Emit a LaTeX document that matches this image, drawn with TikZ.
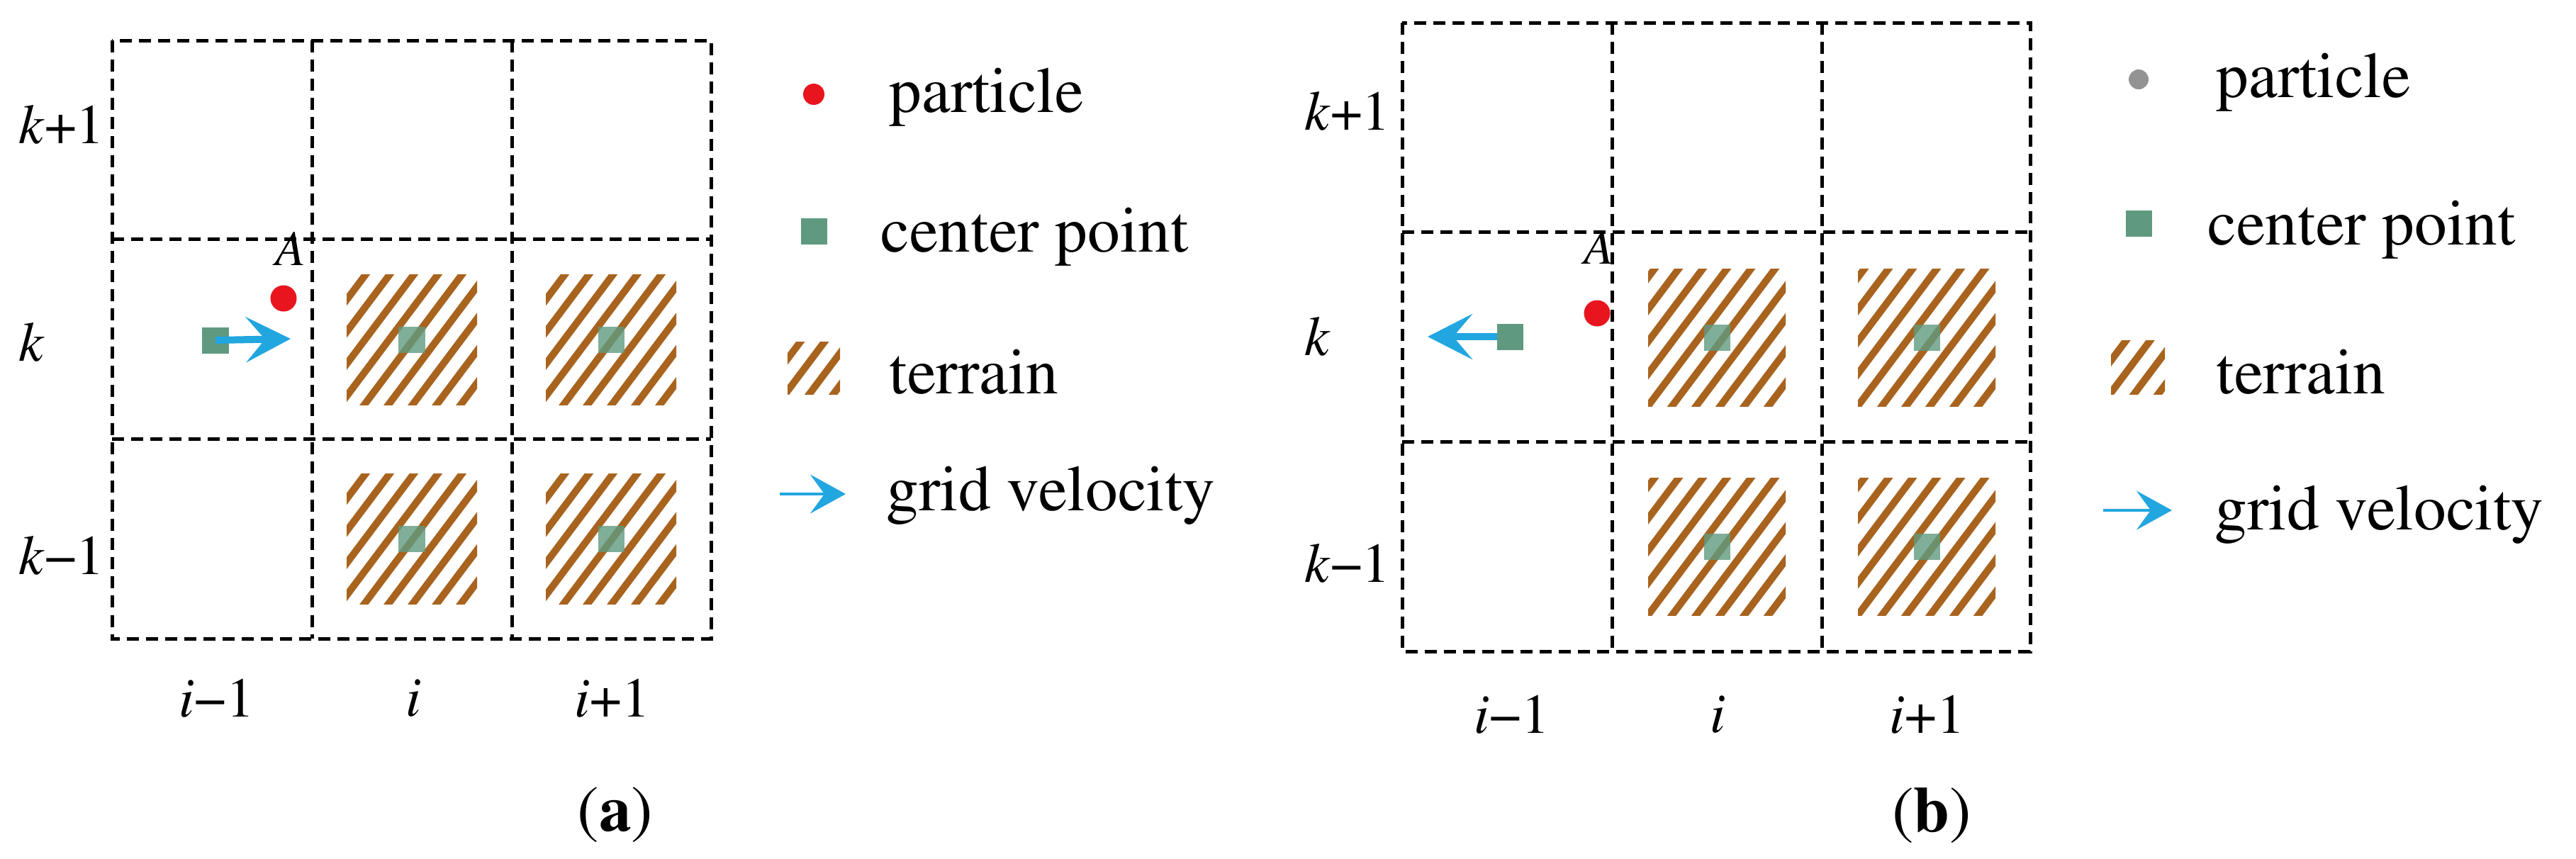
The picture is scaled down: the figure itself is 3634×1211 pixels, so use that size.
\documentclass[tikz,border=0pt]{standalone}
\usepackage[T1]{fontenc}
\usepackage{mathptmx}
\usepackage{textcomp}
\usetikzlibrary{arrows.meta}
\definecolor{cp}{HTML}{5F9A80}
\definecolor{terr}{HTML}{A8631E}
\definecolor{vel}{HTML}{22A6E0}
\definecolor{prt}{HTML}{E8151E}
\newcommand{\mns}{\textminus}
\begin{document}
\begin{tikzpicture}[x=0.01cm,y=-0.01cm,
  grid/.style={dashed,dash pattern=on 0.17cm off 0.1cm,line width=0.05cm},
  lab/.style={font=\fontsize{22.5}{26}\selectfont,inner sep=0},
  labA/.style={font=\fontsize{20}{24}\selectfont,inner sep=0},
  leg/.style={font=\fontsize{26}{30}\selectfont,inner sep=0,anchor=west},
  captxt/.style={font=\fontsize{26}{30}\selectfont,inner sep=0},
  cpt/.style={fill=cp,draw=none,minimum size=0.37cm,inner sep=0},
  cpo/.style={cpt,fill opacity=0.8},
  part/.style={circle,fill=prt,minimum size=0.37cm,inner sep=0},
  vela/.style={draw=vel,line width=0.1cm,-{Stealth[length=0.63cm,width=0.64cm,inset=0.27cm,fill=vel]}},
  velleg/.style={draw=vel,line width=0.04cm,-{Stealth[length=0.5cm,width=0.55cm,inset=0.2cm,fill=vel]}}]
\useasboundingbox (0,0) rectangle (3634,1211);
\newcommand{\terrain}[3]{% cx cy half (in px, absolute)
  \begin{scope}
    \clip (#1-#3,#2-#3) rectangle (#1+#3,#2+#3);
    \fill[white] (#1-#3,#2-#3) rectangle (#1+#3,#2+#3);
    \foreach \s in {-12,...,7}{
      \draw[terr,line width=0.1cm] (#1+\s*34,#2+2*#3) -- (#1+\s*34+3*#3,#2-2*#3);
    }
  \end{scope}}
% ================= panel (a) =================
\draw[grid] (158,57) rectangle (1003,901);
\draw[grid] (440,57) -- (440,901) (722,57) -- (722,901);
\draw[grid] (158,337) -- (1003,337) (158,619) -- (1003,619);
\terrain{581}{479}{92}
\terrain{862}{479}{92}
\terrain{581}{760}{92}
\terrain{862}{760}{92}
\node[cpo] (a11) at (581,479) {};
\node[cpo] (a21) at (862,479) {};
\node[cpo] (a12) at (581,760) {};
\node[cpo] (a22) at (862,760) {};
\node[cpt] (a0) at (304,480) {};
\coordinate (atip) at (410,478);
\draw[vela] (a0.center) -- (atip);
\node[part] (ap) at (400,421) {};
\node[labA] (aA) at (410,351) {\textit{A}};
\node[lab,anchor=west] (ak1) at (26,176) {\textit{k}+1};
\node[lab,anchor=west] (ak) at (26,483) {\textit{k}};
\node[lab,anchor=west] (akm) at (26,784) {\textit{k}\mns1};
\node[lab] (ai1) at (306,985) {\textit{i}\mns1};
\node[lab] (ai) at (583,985) {\textit{i}};
\node[lab] (aip) at (864,985) {\textit{i}+1};
\node[captxt] (acap) at (868,1150) {(\textbf{a})};
% legend (a)
\node[circle,fill=prt,minimum size=0.3cm,inner sep=0] (alp) at (1148,133) {};
\node[leg] (alpt) at (1254,137) {particle};
\node[cpt] (alc) at (1148,326) {};
\node[leg] (alct) at (1242,334) {center point};
\terrain{1148}{519}{37}
\node[inner sep=0,minimum size=0.74cm] (alt) at (1148,519) {};
\node[leg] (altt) at (1254,525) {terrain};
\coordinate (alv1) at (1100,697);
\coordinate (alv2) at (1193,697);
\draw[velleg] (alv1) -- (alv2);
\node[leg] (alvt) at (1250,699) {grid velocity};
% ================= panel (b) =================
\draw[grid] (1978,32) rectangle (2864,919);
\draw[grid] (2274,32) -- (2274,919) (2570,32) -- (2570,919);
\draw[grid] (1978,327) -- (2864,327) (1978,623) -- (2864,623);
\terrain{2422}{476}{97}
\terrain{2718}{476}{97}
\terrain{2422}{771}{97}
\terrain{2718}{771}{97}
\node[cpo] (b11) at (2422,476) {};
\node[cpo] (b21) at (2718,476) {};
\node[cpo] (b12) at (2422,771) {};
\node[cpo] (b22) at (2718,771) {};
\coordinate (b0c) at (2130,475);
\coordinate (btip) at (2014,475);
\draw[vela] (b0c) -- (btip);
\node[cpt] (b0) at (2130,475) {};
\node[part] (bp) at (2253,442) {};
\node[labA] (bA) at (2256,349) {\textit{A}};
\node[lab,anchor=west] (bk1) at (1840,157) {\textit{k}+1};
\node[lab,anchor=west] (bk) at (1840,475) {\textit{k}};
\node[lab,anchor=west] (bkm) at (1840,795) {\textit{k}\mns1};
\node[lab] (bi1) at (2133,1008) {\textit{i}\mns1};
\node[lab] (bi) at (2423,1008) {\textit{i}};
\node[lab] (bip) at (2719,1008) {\textit{i}+1};
\node[captxt] (bcap) at (2725,1150) {(\textbf{b})};
% legend (b)
\node[circle,fill=gray!85,minimum size=0.28cm,inner sep=0] (blp) at (3017,112) {};
\node[leg] (blpt) at (3126,116) {particle};
\node[cpt] (blc) at (3017,315) {};
\node[leg] (blct) at (3114,324) {center point};
\terrain{3016}{518}{38}
\node[inner sep=0,minimum size=0.76cm] (blt) at (3016,518) {};
\node[leg] (bltt) at (3126,525) {terrain};
\coordinate (blv1) at (2967,720);
\coordinate (blv2) at (3064,720);
\draw[velleg] (blv1) -- (blv2);
\node[leg] (blvt) at (3124,726) {grid velocity};
\end{tikzpicture}
\end{document}
